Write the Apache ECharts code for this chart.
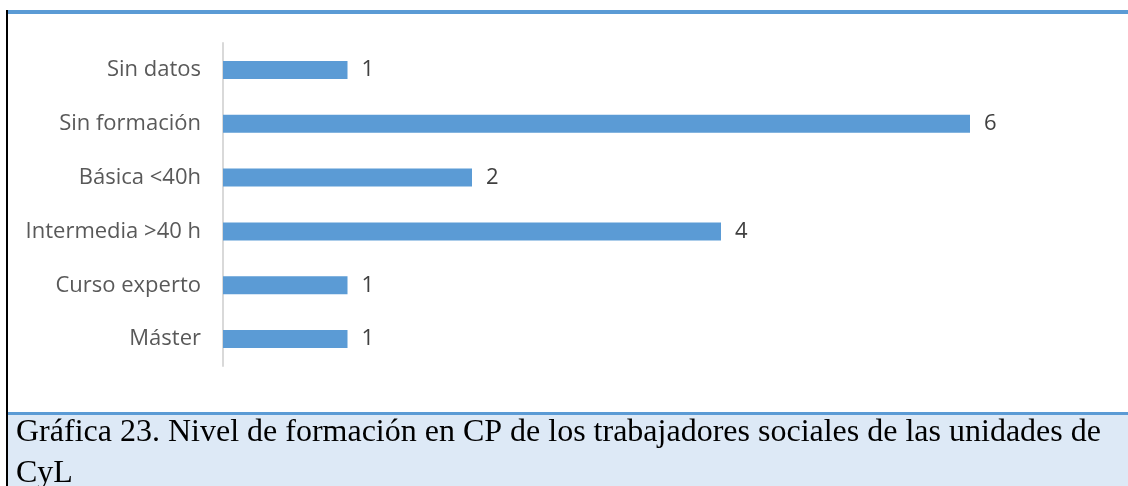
<!DOCTYPE html>
<html>
<head>
<meta charset="utf-8">
<script src="https://cdn.jsdelivr.net/npm/echarts@6/dist/echarts.min.js"></script>
<style>
  html, body { margin: 0; padding: 0; background: #fff; }
  #chart { width: 1128px; height: 486px; }
</style>
</head>
<body>
<div id="chart"></div>
<script>
// categories top to bottom
const categories = ['Sin datos', 'Sin formación', 'Básica <40h', 'Intermedia >40 h', 'Curso experto', 'Máster']
const values = [1, 6, 2, 4, 1, 1]
const captionLines = [
  'Gráfica 23. Nivel de formación en CP de los trabajadores sociales de las unidades de',
  'CyL'
]

const chart = echarts.init(document.getElementById('chart'))

const option = {
  animation: false,
  title: {
    text: captionLines.join('\n'),
    left: 16,
    top: 412,
    padding: 0,
    textStyle: {
      fontFamily: 'Liberation Serif',
      fontSize: 32,
      fontWeight: 'normal',
      color: '#000',
      lineHeight: 41
    }
  },
  graphic: [
    // caption background
    { type: 'rect', shape: { x: 6, y: 413, width: 1122, height: 73 }, style: { fill: '#dde9f6' }, z: -1 },
    { type: 'rect', shape: { x: 6, y: 412, width: 1122, height: 3 }, style: { fill: '#5b9bd5' } },
    // top border
    { type: 'rect', shape: { x: 6, y: 10, width: 1122, height: 4 }, style: { fill: '#5b9bd5' } },
    // left border
    { type: 'rect', shape: { x: 6, y: 10, width: 2, height: 476 }, style: { fill: '#000' } }
  ],
  grid: {
    left: 223,
    top: 43,
    width: 747,
    height: 323
  },
  xAxis: {
    type: 'value',
    min: 0,
    max: 6,
    show: false
  },
  yAxis: {
    type: 'category',
    data: categories,
    inverse: true,
    axisLine: { lineStyle: { color: '#d9d9d9', width: 2 } },
    axisTick: { show: false },
    axisLabel: {
      margin: 22,
      fontFamily: 'Open Sans',
      fontSize: 22,
      color: '#595959'
    }
  },
  series: [
    {
      type: 'bar',
      data: values,
      barWidth: 18,
      itemStyle: { color: '#5b9bd5' },
      label: {
        show: true,
        position: 'right',
        distance: 14,
        fontFamily: 'Open Sans',
        fontSize: 22,
        color: '#404040'
      }
    }
  ]
}

chart.setOption(option)
</script>
</body>
</html>
